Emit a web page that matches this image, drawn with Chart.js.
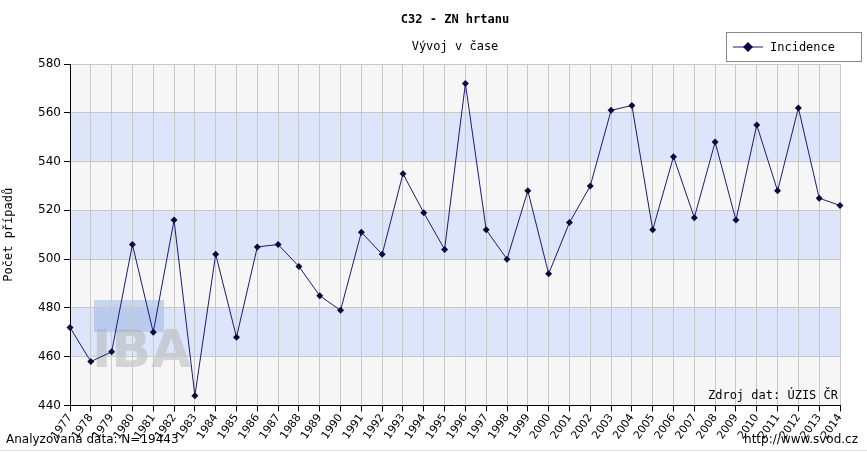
<!DOCTYPE html><html><head><meta charset="utf-8">
<script src="https://cdn.jsdelivr.net/npm/chart.js@4"></script>
<style>body{margin:0;background:#fff}</style></head><body><canvas id="c" width="867" height="452" style="width:867px;height:452px"></canvas>
<script>
const years=['1977','1978','1979','1980','1981','1982','1983','1984','1985','1986','1987','1988','1989','1990','1991','1992','1993','1994','1995','1996','1997','1998','1999','2000','2001','2002','2003','2004','2005','2006','2007','2008','2009','2010','2011','2012','2013','2014'];
const incidence=[472,458,462,506,470,516,444,502,468,505,506,497,485,479,511,502,535,519,504,572,512,500,528,494,515,530,561,563,512,542,517,548,516,555,528,562,525,522];
const yTicks=[440,460,480,500,520,540,560,580];
const F='"DejaVu Sans Mono", monospace';
const deco={id:'deco',beforeDraw(ch){const{ctx,chartArea:a,scales:{y}}=ch;ctx.save();
for(let v=440;v<580;v+=20){const t=y.getPixelForValue(v+20),b=y.getPixelForValue(v);ctx.fillStyle=((v-440)/20)%2==1?'#dce5fa':'#f6f6f6';ctx.fillRect(a.left,t,a.right-a.left,b-t);}
ctx.fillStyle='rgba(150,180,230,0.5)';ctx.fillRect(94,300,70,32);
ctx.font='bold 52px "DejaVu Sans"';ctx.fillStyle='rgba(170,170,170,0.45)';ctx.fillText('IBA',92,367);
ctx.restore();},
afterDraw(ch){const{ctx,chartArea:a}=ch;ctx.save();ctx.fillStyle='#000';ctx.font='12px '+F;
ctx.textAlign='right';ctx.fillText('Zdroj dat: ÚZIS ČR',a.right-2,a.bottom-6);
ctx.font='12px "DejaVu Sans"';ctx.fillText('http://www.svod.cz',858,443);ctx.textAlign='left';ctx.fillText('Analyzovaná data: N=19443',6,443);
ctx.font='bold 12px '+F;ctx.textAlign='center';ctx.fillText('C32 - ZN hrtanu',455,23);
ctx.font='12px '+F;ctx.fillText('Vývoj v čase',455,50);
ctx.strokeStyle='#888';ctx.fillStyle='#fff';ctx.fillRect(726,32,136,30);ctx.strokeRect(726.5,32.5,135,29);
ctx.strokeStyle='#1a1a7a';ctx.beginPath();ctx.moveTo(733,47);ctx.lineTo(763,47);ctx.stroke();
ctx.fillStyle='#0a0a3a';ctx.beginPath();ctx.moveTo(748,42);ctx.lineTo(753,47);ctx.lineTo(748,52);ctx.lineTo(743,47);ctx.fill();
ctx.fillStyle='#000';ctx.textAlign='left';ctx.fillText('Incidence',770,51);
ctx.strokeStyle='#ddd';ctx.beginPath();ctx.moveTo(0,450.5);ctx.lineTo(867,450.5);ctx.stroke();
ctx.restore();}};
new Chart(document.getElementById('c'),{type:'line',data:{labels:years,datasets:[{label:'Incidence',data:incidence,borderColor:'#1a1a7a',borderWidth:1,backgroundColor:'#0a0a3a',pointStyle:'rectRot',pointRadius:3.5,pointBorderWidth:0,tension:0}]},
options:{responsive:false,animation:false,devicePixelRatio:1,layout:{padding:{top:64,left:0,right:27,bottom:10}},
plugins:{legend:{display:false},tooltip:{enabled:false}},
scales:{x:{offset:false,grid:{color:'#c8c8c8',tickLength:6,tickColor:'#000'},border:{color:'#000'},ticks:{color:'#000',font:{family:'"DejaVu Sans"',size:11},maxRotation:55,minRotation:55,autoSkip:false,padding:0}},
y:{min:440,max:580,afterBuildTicks(s){s.ticks=yTicks.map(v=>({value:v}));},afterFit(s){s.width=70;},grid:{color:'#c8c8c8',tickLength:6,tickColor:'#000'},border:{color:'#000'},ticks:{color:'#000',font:{family:'"DejaVu Sans"',size:12}},title:{display:true,text:'Počet případů',color:'#000',font:{family:F,size:12},padding:2}}}},
plugins:[deco]});
</script></body></html>
